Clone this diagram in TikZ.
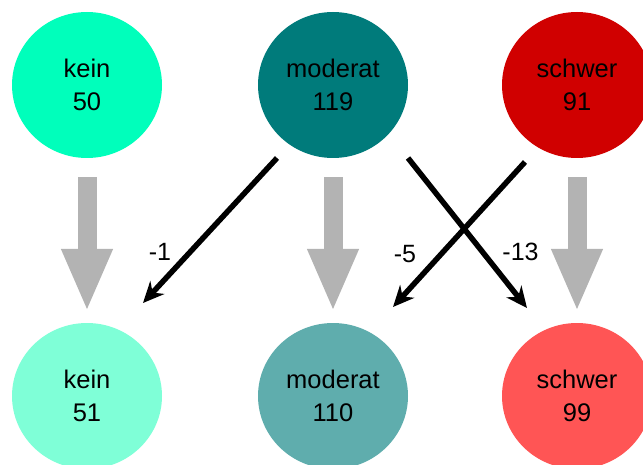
\documentclass[tikz,border=0pt]{standalone}
\usepackage{fontspec}
\setmainfont{Liberation Sans}
\usetikzlibrary{shapes.geometric,arrows.meta,calc}
\definecolor{keinA}{RGB}{0,255,187}
\definecolor{keinB}{RGB}{127,255,215}
\definecolor{modA}{RGB}{0,123,123}
\definecolor{modB}{RGB}{95,173,173}
\definecolor{schA}{RGB}{208,0,0}
\definecolor{schB}{RGB}{255,85,85}
\definecolor{grayarr}{RGB}{179,179,179}
\tikzset{
  state/.style={ellipse, minimum width=150pt, minimum height=146pt, inner sep=0pt,
    align=center, font=\fontsize{25.5}{33}\selectfont, text=black},
  flow/.style={draw=grayarr, line width=19pt, -{Triangle[length=63pt,width=47pt]}},
  change/.style={draw=black, line width=5.5pt, -{Stealth[length=21pt,width=19pt]}},
  lbl/.style={font=\fontsize{25}{28}\selectfont, inner sep=0pt}
}
\begin{document}
\begin{tikzpicture}[x=1pt,y=-1pt]
\useasboundingbox (0,0) rectangle (643,465);
\clip (0,0) rectangle (643,465);
% top row
\node[state, fill=keinA] (k1) at (87,85) {kein\\50};
\node[state, fill=modA] (m1) at (333,85) {moderat\\119};
\node[state, fill=schA] (s1) at (577,85) {schwer\\91};
% bottom row
\node[state, fill=keinB] (k2) at (87,396) {kein\\51};
\node[state, fill=modB] (m2) at (333,396) {moderat\\110};
\node[state, fill=schB] (s2) at (577,396) {schwer\\99};
% gray flows
\draw[flow] ($(k1.south)+(0,19)$) -- ($(k2.north)+(0,-11)$);
\draw[flow] ($(m1.south)+(0,19)$) -- ($(m2.north)+(0,-11)$);
\draw[flow] ($(s1.south)+(0,19)$) -- ($(s2.north)+(0,-11)$);
% black change arrows
\coordinate (a1s) at ($(m1.center)+(-56,73)$);
\coordinate (a1e) at ($(k2.center)+(56,-93)$);
\coordinate (a2s) at ($(m1.center)+(75,73)$);
\coordinate (a2e) at ($(s2.center)+(-50,-88)$);
\coordinate (a3s) at ($(s1.center)+(-52,77)$);
\coordinate (a3e) at ($(m2.center)+(60,-89)$);
\draw[change] (a1s) -- (a1e);
\draw[change] (a2s) -- (a2e);
\draw[change] (a3s) -- (a3e);
% labels
\node[lbl] (l1) at (160,251.5) {-1};
\node[lbl] (l3) at (405,254) {-5};
\node[lbl] (l2) at (520.5,251.5) {-13};
\end{tikzpicture}
\end{document}
